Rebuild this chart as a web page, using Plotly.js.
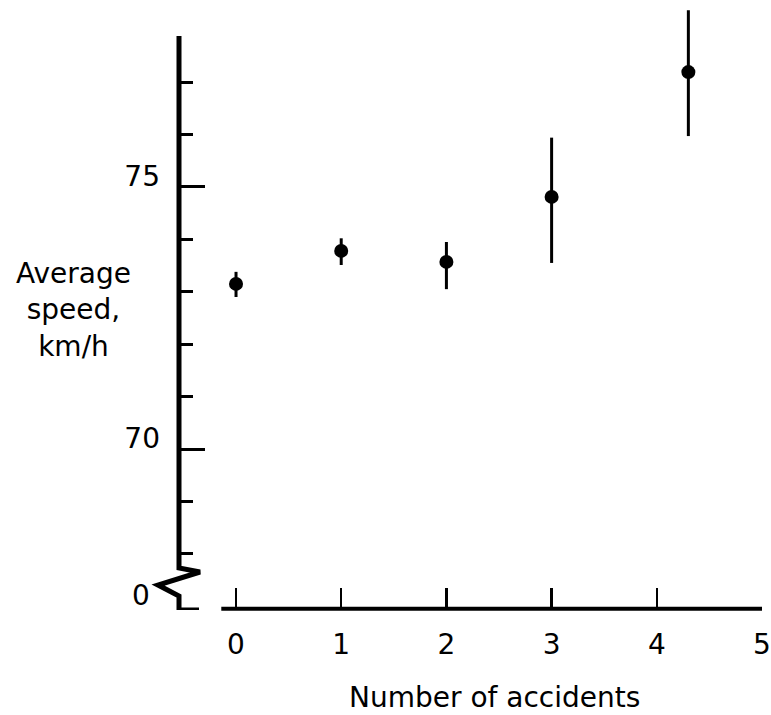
<!DOCTYPE html>
<html>
<head>
<meta charset="utf-8">
<script src="https://cdn.plot.ly/plotly-3.0.1.min.js"></script>
<style>html,body{margin:0;padding:0;background:#fff;}</style>
</head>
<body>
<div id="chart" style="width:771px;height:715px;"></div>
<script>
// Data
var accidents = [0, 1, 2, 3, 4.3];
var avgSpeed = [73.15, 73.78, 73.57, 74.81, 77.19];
var errPlus = [0.23, 0.24, 0.38, 1.13, 1.18];
var errMinus = [0.25, 0.27, 0.52, 1.26, 1.22];
var xTickVals = [0, 1, 2, 3, 4, 5];
var yMajorVals = [70, 75];
var yMajorText = ['70', '75'];
var yMinorVals = [68, 69, 71, 72, 73, 74, 76, 77];
var yBreakLabel = '0';

var FONT = 'DejaVu Sans';
var trace = {
  type: 'scatter', mode: 'markers',
  x: accidents, y: avgSpeed,
  cliponaxis: false,
  marker: {color: '#000', size: 14, symbol: 'circle'},
  error_y: {type: 'data', symmetric: false, array: errPlus, arrayminus: errMinus,
            color: '#000', thickness: 3, width: 0},
  showlegend: false, hoverinfo: 'x+y'
};

// pixel helpers for axis decoration (plot area: x 179..762, y 5..610)
function px2paperX(px){ return (px - 179) / 583; }
var yLo = 66.93, yHi = 78.47;
function px2dataY(py){ return yHi - (py - 5) / 605 * (yHi - yLo); }

var zig = 'M ' + px2paperX(179) + ',' + px2dataY(36) +
  ' L ' + px2paperX(179) + ',' + px2dataY(568) +
  ' L ' + px2paperX(200) + ',' + px2dataY(572) +
  ' L ' + px2paperX(158) + ',' + px2dataY(585) +
  ' L ' + px2paperX(179) + ',' + px2dataY(596) +
  ' L ' + px2paperX(179) + ',' + px2dataY(610) +
  ' L ' + px2paperX(199) + ',' + px2dataY(610);

var layout = {
  width: 771, height: 715,
  margin: {l: 179, r: 9, t: 5, b: 105, pad: 0},
  paper_bgcolor: '#fff', plot_bgcolor: '#fff',
  font: {family: FONT, size: 28, color: '#000'},
  showlegend: false,
  xaxis: {
    range: [-0.542, 5.0], showgrid: false, zeroline: false, showline: false,
    tickmode: 'array', tickvals: xTickVals, ticktext: xTickVals.map(String),
    ticks: 'inside', ticklen: 22, tickwidth: 2.5, tickcolor: '#000',
    tickfont: {family: FONT, size: 28, color: '#000'},
    ticklabelstandoff: 15
  },
  yaxis: {
    range: [yLo, yHi], showgrid: false, zeroline: false, showline: false,
    tickmode: 'array', tickvals: yMajorVals, ticktext: yMajorText,
    ticks: 'inside', ticklen: 26, tickwidth: 3, tickcolor: '#000',
    tickfont: {family: FONT, size: 28, color: '#000'},
    ticklabelshift: -11, ticklabelstandoff: 18,
    minor: {tickmode: 'array', tickvals: yMinorVals, ticks: 'inside', ticklen: 14,
            tickwidth: 3, tickcolor: '#000', showgrid: false}
  },
  shapes: [
    {type: 'path', xref: 'paper', yref: 'y', path: zig,
     line: {color: '#000', width: 5}},
    {type: 'line', xref: 'x', yref: 'paper', x0: -0.14, x1: 5.0, y0: 0.002, y1: 0.002,
     line: {color: '#000', width: 4}}
  ],
  annotations: [
    {xref: 'paper', yref: 'paper', x: px2paperX(73), y: (610 - 310) / 605,
     xanchor: 'center', yanchor: 'middle', align: 'center', showarrow: false,
     text: 'Average<br>speed,<br>km/h', font: {family: FONT, size: 28, color: '#000'}},
    {xref: 'paper', yref: 'paper', x: px2paperX(152), y: (610 - 595) / 605,
     xanchor: 'right', yanchor: 'middle', showarrow: false,
     text: yBreakLabel, font: {family: FONT, size: 28, color: '#000'}},
    {xref: 'paper', yref: 'paper', x: px2paperX(494), y: (610 - 697) / 605,
     xanchor: 'center', yanchor: 'middle', showarrow: false,
     text: 'Number of accidents', font: {family: FONT, size: 28, color: '#000'}}
  ]
};

Plotly.newPlot('chart', [trace], layout, {displayModeBar: false, staticPlot: true});
</script>
</body>
</html>
